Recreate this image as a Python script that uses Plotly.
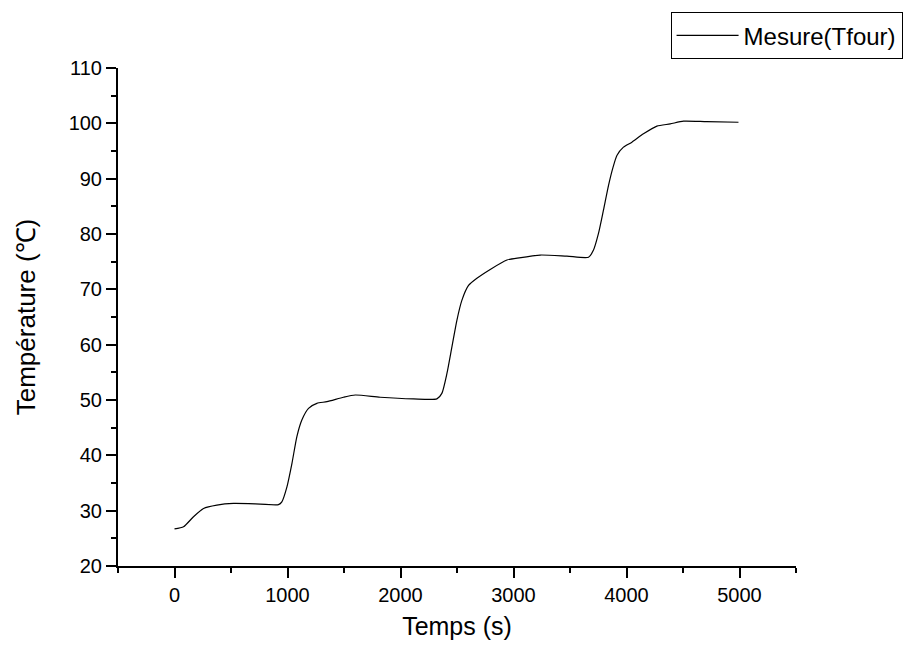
import plotly.graph_objects as go

# Data
time_s = [0, 80, 168, 257, 375, 522, 758, 920, 950, 995, 1039, 1083, 1127, 1186, 1260,
          1349, 1496, 1600, 1820, 2115, 2322, 2366, 2411, 2455, 2499, 2543, 2602, 2676,
          2794, 2942, 3050, 3236, 3473, 3664, 3708, 3752, 3796, 3841, 3880, 3915, 3973,
          4048, 4150, 4269, 4387, 4504, 4711, 4991]
temp_c = [26.7, 27.1, 28.9, 30.4, 31.0, 31.3, 31.2, 31.1, 31.6, 34.3, 38.5, 43.4, 46.4,
          48.5, 49.4, 49.7, 50.5, 50.9, 50.5, 50.2, 50.2, 51.2, 54.8, 59.6, 64.4, 68.0,
          70.7, 72.0, 73.6, 75.3, 75.7, 76.2, 76.0, 75.8, 77.1, 80.1, 84.3, 88.8, 92.0,
          94.2, 95.7, 96.6, 98.1, 99.5, 99.9, 100.4, 100.3, 100.2]

x_ticks = [0, 1000, 2000, 3000, 4000, 5000]
y_ticks = [20, 30, 40, 50, 60, 70, 80, 90, 100, 110]

FONT = "Liberation Sans, Arial, sans-serif"

fig = go.Figure()
fig.add_trace(go.Scatter(
    x=time_s, y=temp_c, mode="lines", name="Mesure(Tfour)",
    line=dict(color="black", width=1.2, shape="spline", smoothing=0.6),
))

axis_common = dict(
    showline=True, linecolor="black", linewidth=2,
    ticks="outside", ticklen=10, tickwidth=2, tickcolor="black",
    showgrid=False, zeroline=False, mirror=False, automargin=False,
    tickfont=dict(family=FONT, size=20, color="black"),
)

fig.update_xaxes(
    range=[-500, 5500], tickvals=x_ticks, ticktext=[str(v) for v in x_ticks],
    minor=dict(ticks="outside", ticklen=5, tickwidth=2, tickcolor="black", dtick=500, tick0=-500),
    title=dict(text="Temps (s)", font=dict(family=FONT, size=25, color="black"), standoff=12),
    **axis_common,
)
fig.update_yaxes(
    range=[20, 110], tickvals=y_ticks, ticktext=[str(v) for v in y_ticks],
    minor=dict(ticks="outside", ticklen=5, tickwidth=2, tickcolor="black", dtick=5, tick0=20),
    title=dict(text="Température (℃)", font=dict(family=FONT, size=26, color="black"), standoff=26),
    **axis_common,
)

fig.update_layout(
    width=908, height=646,
    margin=dict(l=118, r=112, t=68, b=80, autoexpand=False),
    plot_bgcolor="white", paper_bgcolor="white",
    showlegend=True,
    legend=dict(
        x=0.815, y=1.112, xanchor="left", yanchor="top",
        bordercolor="black", borderwidth=1, bgcolor="white",
        font=dict(family=FONT, size=24, color="black"),
        itemwidth=62,
    ),
)

fig.write_html(
    "out.html",
    config={"displayModeBar": False},
    post_script="document.body.style.margin='0';document.body.style.padding='0';",
)
